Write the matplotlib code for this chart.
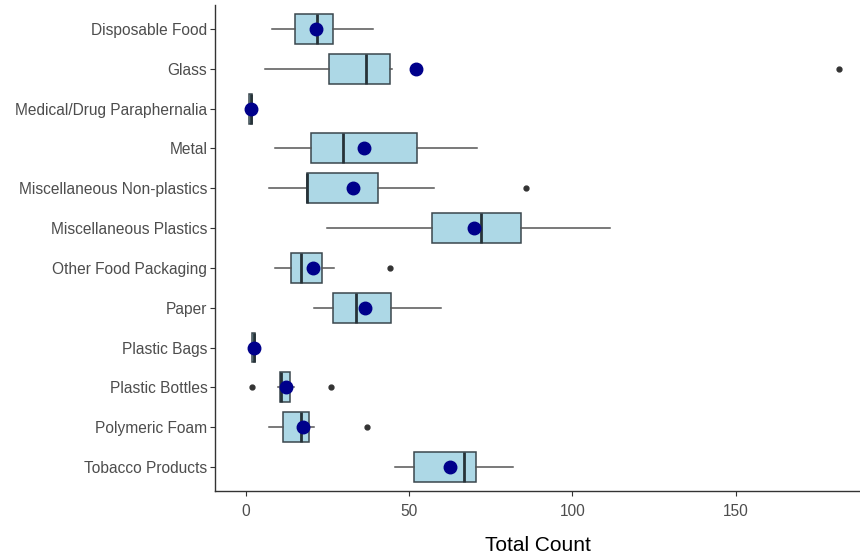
import matplotlib
matplotlib.use("Agg")
import matplotlib.pyplot as plt

plt.rcParams['font.family'] = ['Liberation Sans', 'DejaVu Sans']

# categories, top to bottom
categories = [
    "Disposable Food", "Glass", "Medical/Drug Paraphernalia", "Metal",
    "Miscellaneous Non-plastics", "Miscellaneous Plastics", "Other Food Packaging",
    "Paper", "Plastic Bags", "Plastic Bottles", "Polymeric Foam", "Tobacco Products",
]

# box statistics
whisker_low = [8.0, 5.9, 1.0, 9.0, 7.1, 25.0, 9.0, 21.0, 2.0, 10.0, 7.1, 45.8]
q1 = [15.2, 25.6, 1.0, 20.0, 18.8, 56.9, 13.9, 26.6, 2.0, 10.5, 11.5, 51.4]
median = [21.7, 36.9, 1.5, 29.8, 18.9, 71.9, 16.8, 33.8, 2.5, 10.8, 16.9, 66.8]
q3 = [26.6, 44.3, 2.0, 52.5, 40.5, 84.2, 23.5, 44.5, 3.0, 13.6, 19.5, 70.6]
whisker_high = [39.0, 44.7, 2.0, 70.7, 57.6, 111.5, 26.9, 59.9, 3.0, 14.9, 20.8, 81.7]
means = [21.4, 52.0, 1.5, 36.1, 32.9, 70.0, 20.6, 36.5, 2.4, 12.4, 17.6, 62.5]
outliers = [[], [181.7], [], [], [85.8], [], [44.2], [], [], [1.9, 26.0], [37.0], []]

xticks = [0, 50, 100, 150]

fig = plt.figure(figsize=(8.6, 5.56), dpi=100)
ax = fig.add_axes([0.25, 0.117, 0.75, 0.874])

stats = []
for i, name in enumerate(categories):
    stats.append(dict(label=name, whislo=whisker_low[i], q1=q1[i], med=median[i],
                      q3=q3[i], whishi=whisker_high[i], fliers=outliers[i]))

positions = list(range(1, len(categories) + 1))
edge = '#3a474d'
ax.bxp(stats, positions=positions, vert=False, widths=0.75, patch_artist=True,
       showcaps=False,
       boxprops=dict(facecolor='#add8e6', edgecolor=edge, linewidth=1.1),
       medianprops=dict(color='#263238', linewidth=2.0),
       whiskerprops=dict(color='#555555', linewidth=1.1),
       flierprops=dict(marker='o', markerfacecolor='#333333', markeredgecolor='#333333',
                       markersize=3.5))

ax.plot(means, positions, 'o', color='#00008b', markersize=9, zorder=5)

ax.set_ylim(len(categories) + 0.6, 0.4)
ax.set_xlim(-9.4, 188.1)
ax.set_yticks(positions)
ax.set_yticklabels(categories)
ax.set_xticks(xticks)

for side in ['top', 'right']:
    ax.spines[side].set_visible(False)
for side in ['left', 'bottom']:
    ax.spines[side].set_color('#333333')
    ax.spines[side].set_linewidth(1.0)

ax.tick_params(axis='both', colors='#333333', length=3.5, width=0.8,
               labelsize=11.2, labelcolor='#4d4d4d')
ax.tick_params(axis='y', pad=2)
ax.tick_params(axis='x', pad=6)
ax.set_xlabel("Total Count", fontsize=15, color='black', labelpad=12)

fig.savefig("out.png", dpi=100)
